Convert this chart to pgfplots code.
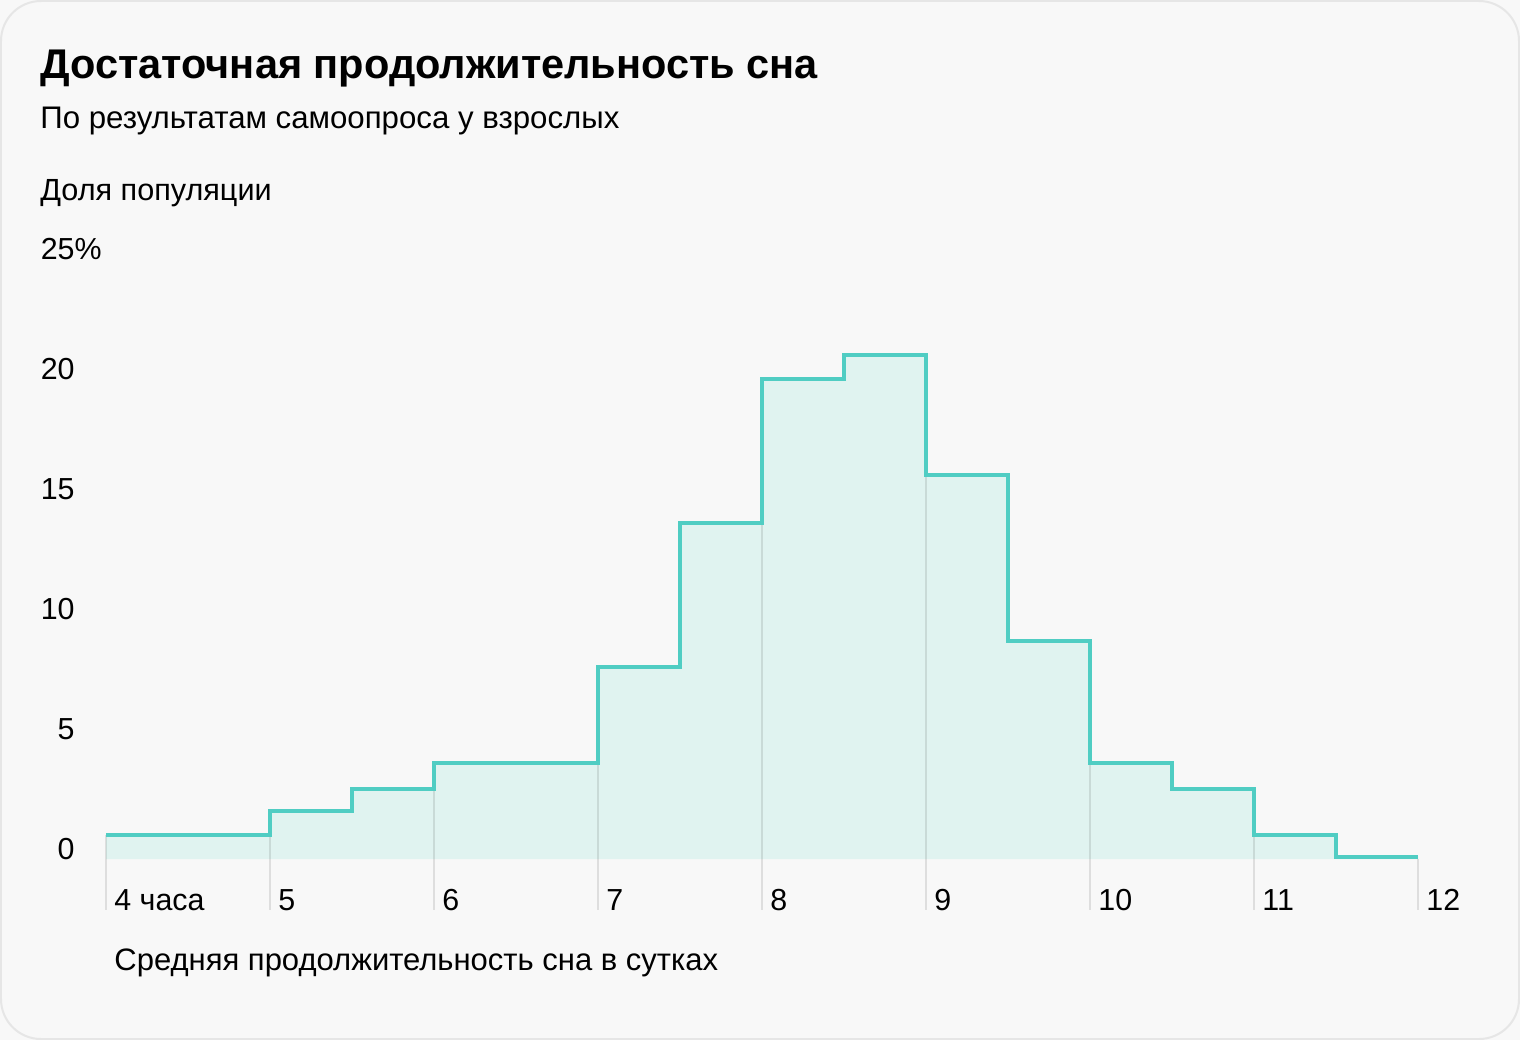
\documentclass[border=0pt]{standalone}
\usepackage{pgfplots}
\pgfplotsset{compat=1.18}
\usepackage{fontspec}
\setmainfont{Liberation Sans}
\definecolor{bgc}{HTML}{F8F8F8}
\definecolor{brd}{HTML}{E6E6E6}
\definecolor{teal1}{HTML}{50CDC3}
\definecolor{tealfill}{HTML}{E0F3F0}
\begin{document}
\begin{tikzpicture}
% background card
\fill[bgc] (0,0) rectangle (760bp,-520bp);
\draw[brd, line width=1bp, fill=bgc, rounded corners=20bp] (0.5bp,-0.5bp) rectangle (759.5bp,-519.5bp);
% titles
\node[anchor=base west, inner sep=0pt, font=\fontsize{20.75bp}{24bp}\selectfont\bfseries] at (20bp,-39bp) {Достаточная продолжительность сна};
\node[anchor=base west, inner sep=0pt, font=\fontsize{15.6bp}{18bp}\selectfont] at (20bp,-64bp) {По результатам самоопроса у взрослых};
\node[anchor=base west, inner sep=0pt, font=\fontsize{15.3bp}{18bp}\selectfont] at (20bp,-100bp) {Доля популяции};
\node[anchor=base west, inner sep=0pt, font=\fontsize{15.5bp}{18bp}\selectfont] at (57bp,-485bp) {Средняя продолжительность сна в сутках};
\begin{axis}[
  at={(53bp,-455bp)}, anchor=south west,
  scale only axis, width=656bp, height=325.5bp,
  xmin=4, xmax=12, ymin=-2.125, ymax=25,
  axis line style={draw=none},
  tick style={draw=none},
  major tick length=0pt,
  xtick={4,5,...,12},
  xticklabels={4 часа,5,6,7,8,9,10,11,12},
  ytick={0,5,10,15,20,25},
  yticklabels={0,5,10,15,20,25\rlap{\%}},
  /pgf/number format/assume math mode=true,
  xticklabel style={anchor=base west, inner sep=0pt, xshift=4bp, font=\fontsize{15.2bp}{18bp}\selectfont},
  yticklabel style={anchor=base east, inner sep=0pt, xshift=-15.5bp, font=\fontsize{15.2bp}{18bp}\selectfont},
  clip=false,
]
% filled area
\addplot[const plot, fill=tealfill, draw=none] coordinates {
  (4,1) (4.5,1) (5,2) (5.5,2.9) (6,4) (6.5,4) (7,8) (7.5,14) (8,20) (8.5,21)
  (9,16) (9.5,9.1) (10,4) (10.5,2.9) (11,1) (11.5,0.1) (12,0.1)} \closedcycle;
% grid lines inside the fill
\addplot[ycomb, black, opacity=0.1, line width=1bp, mark=none] coordinates {
  (4,1) (5,1) (6,2.9) (7,4) (8,14) (9,16) (10,4) (11,1)};
% tick lines below the baseline
\addplot[ycomb, black, opacity=0.1, line width=1bp, mark=none] coordinates {
  (4,-2.125) (5,-2.125) (6,-2.125) (7,-2.125) (8,-2.125) (9,-2.125) (10,-2.125) (11,-2.125) (12,-2.125)};
% step line
\addplot[const plot, teal1, line width=2bp, mark=none] coordinates {
  (4,1) (4.5,1) (5,2) (5.5,2.9) (6,4) (6.5,4) (7,8) (7.5,14) (8,20) (8.5,21)
  (9,16) (9.5,9.1) (10,4) (10.5,2.9) (11,1) (11.5,0.1) (12,0.1)};
\end{axis}
\end{tikzpicture}
\end{document}
